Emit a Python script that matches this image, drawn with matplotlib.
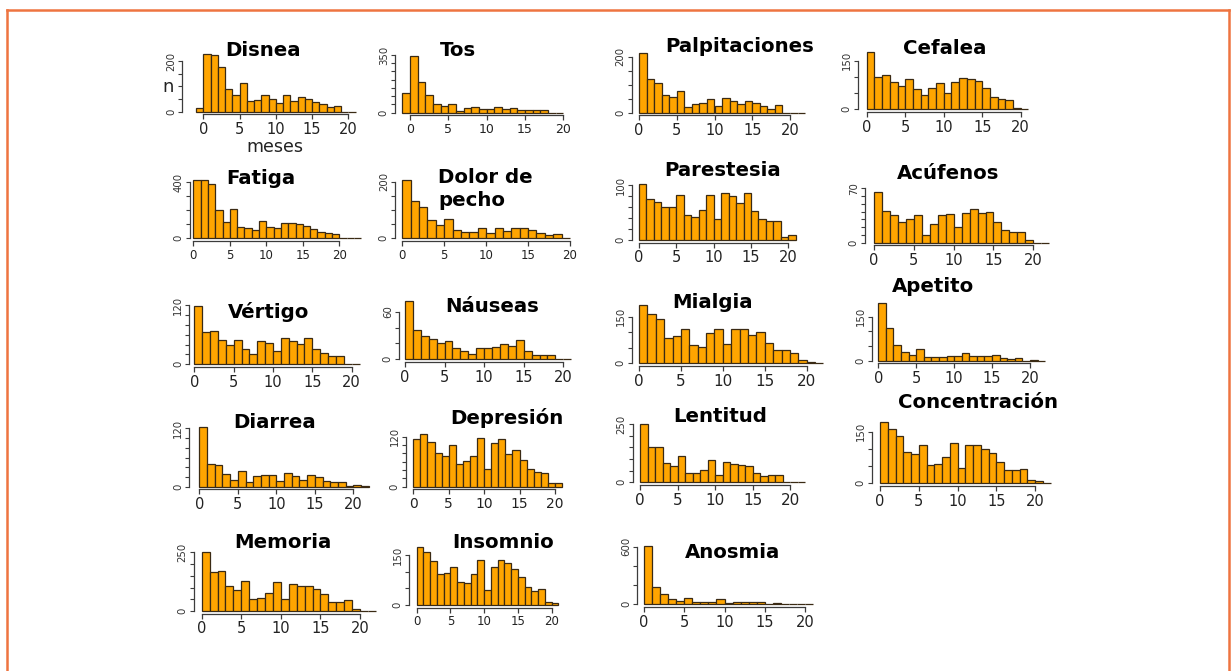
import matplotlib
matplotlib.use("Agg")
import matplotlib.pyplot as plt
from matplotlib.lines import Line2D

W, H, DPI = 1231, 671, 100

# ---------------- data ----------------
titles = ["Disnea", "Tos", "Palpitaciones", "Cefalea",
          "Fatiga", "Dolor de\npecho", "Parestesia", "Acúfenos",
          "Vértigo", "Náuseas", "Mialgia", "Apetito",
          "Diarrea", "Depresión", "Lentitud", "Concentración",
          "Memoria", "Insomnio", "Anosmia"]

disnea = [16, 229, 222, 176, 91, 65, 115, 42, 48, 64, 52, 33, 65, 42, 59, 51, 39, 29, 20, 22, 0, 0]
tos = [121, 344, 188, 107, 51, 40, 51, 12, 26, 32, 22, 24, 36, 24, 28, 18, 18, 14, 14, 0, 0]
palpitaciones = [212, 122, 107, 63, 57, 79, 21, 30, 33, 48, 24, 54, 42, 31, 42, 36, 24, 12, 26, 0, 0, 0]
cefalea = [178, 101, 106, 83, 73, 93, 62, 44, 67, 82, 49, 83, 98, 95, 88, 67, 37, 32, 29, 5, 0]
fatiga = [417, 417, 386, 202, 119, 209, 79, 71, 60, 124, 83, 76, 107, 107, 102, 88, 67, 48, 40, 29, 0, 0, 0]
dolor_pecho = [206, 132, 109, 65, 47, 67, 29, 24, 24, 35, 18, 35, 27, 35, 35, 29, 20, 12, 15, 0]
parestesia = [101, 74, 69, 60, 60, 82, 45, 42, 55, 82, 39, 85, 80, 68, 85, 52, 39, 35, 35, 5, 9]
acufenos = [65, 41, 35, 26, 31, 35, 10, 24, 35, 37, 20, 38, 43, 38, 40, 26, 16, 14, 14, 3, 0, 0]
vertigo = [118, 66, 68, 50, 39, 50, 30, 21, 48, 44, 27, 53, 47, 41, 53, 30, 22, 16, 16, 0, 1]
nauseas = [73, 37, 29, 26, 20, 23, 14, 10, 7, 14, 14, 16, 19, 17, 24, 11, 6, 5, 5, 0, 1]
mialgia = [187, 158, 144, 82, 88, 110, 59, 51, 96, 110, 62, 112, 112, 91, 100, 64, 43, 43, 32, 11, 3, 0]
apetito = [198, 110, 54, 31, 19, 39, 11, 14, 14, 17, 17, 25, 16, 17, 17, 21, 10, 6, 8, 0, 2, 0]
diarrea = [122, 47, 45, 26, 14, 32, 9, 23, 25, 25, 12, 29, 23, 14, 24, 19, 12, 9, 9, 1, 3, 1]
depresion = [114, 126, 108, 80, 74, 100, 54, 62, 74, 118, 42, 106, 114, 78, 88, 64, 42, 36, 34, 8, 8]
lentitud = [250, 150, 150, 85, 70, 115, 39, 39, 53, 96, 31, 89, 79, 75, 72, 42, 25, 31, 31, 3, 0, 0]
concentracion = [177, 157, 138, 92, 84, 111, 53, 56, 77, 116, 44, 111, 111, 99, 87, 63, 39, 39, 41, 10, 7, 0]
memoria = [250, 165, 172, 107, 89, 128, 51, 57, 75, 122, 50, 115, 107, 107, 94, 71, 37, 37, 46, 7, 0, 0]
insomnio = [175, 160, 132, 93, 97, 115, 70, 67, 92, 135, 45, 113, 135, 127, 107, 85, 53, 43, 48, 10, 7]
anosmia = [610, 184, 104, 52, 38, 70, 28, 28, 28, 52, 18, 28, 28, 21, 21, 3, 18, 7, 7, 0, 0]

series = [disnea, tos, palpitaciones, cefalea, fatiga, dolor_pecho, parestesia, acufenos,
          vertigo, nauseas, mialgia, apetito, diarrea, depresion, lentitud, concentracion,
          memoria, insomnio, anosmia]
bin_start = [-1, -1, 0, 0, 0, 0, 0, 0, 0, 0, 0, 0, 0, 0, 0, 0, 0, 0, 0]
x_ticks = [0, 5, 10, 15, 20]
y_top = [200, 350, 200, 150, 400, 200, 100, 70, 120, 60, 150, 150, 120, 120, 250, 150, 250, 150, 600]
y_step = [50, 50, 50, 50, 100, 50, 20, 10, 20, 20, 50, 50, 20, 20, 50, 50, 50, 50, 200]

# ---------------- layout (pixels) ----------------
# (x of tick 0, x of tick 20, baseline y, y of top tick, y-axis x, tick font size)
geom = [
    (203.3, 348.3, 111.7, 61.0, 182.3, 10.5),
    (410.0, 563.3, 112.7, 55.0, 395.0, 9.0),
    (639.0, 790.0, 112.7, 56.7, 631.7, 10.5),
    (866.7, 1020.7, 109.3, 60.7, 858.0, 10.5),
    (193.3, 339.3, 238.3, 182.3, 190.0, 8.5),
    (402.3, 570.0, 238.3, 181.7, 395.0, 8.5),
    (639.0, 788.3, 240.0, 185.0, 631.7, 10.5),
    (874.0, 1033.3, 242.7, 188.3, 865.0, 10.5),
    (194.3, 351.7, 364.3, 305.0, 189.3, 10.5),
    (405.0, 563.3, 359.3, 311.7, 399.0, 10.5),
    (639.0, 806.7, 363.3, 316.7, 631.7, 11.0),
    (878.3, 1030.0, 360.7, 316.7, 871.7, 10.5),
    (199.3, 353.3, 486.7, 428.3, 189.3, 10.5),
    (413.3, 555.0, 486.7, 436.7, 406.0, 10.0),
    (640.0, 790.0, 482.3, 424.3, 632.7, 11.0),
    (880.0, 1035.0, 483.3, 431.7, 871.7, 10.5),
    (201.7, 360.0, 611.0, 552.3, 194.0, 10.5),
    (416.7, 551.7, 605.0, 555.0, 409.0, 8.5),
    (644.0, 805.0, 604.3, 546.7, 637.3, 10.5),
]
title_pos = [(263, 51), (458, 51), (740, 46), (945, 49),
             (261, 178), (438, 189), (723, 171), (948, 173),
             (269, 312), (492, 306), (713, 302), (933, 287),
             (275, 423), (507, 418), (720, 417), (978, 403),
             (283, 542), (503, 543), (733, 553)]

BAR = "#FFA500"
EDGE = "#3a2a14"
AX = "#3c3c3c"

fig = plt.figure(figsize=(W / DPI, H / DPI), dpi=DPI)
fig.patch.set_facecolor("white")


def fx(x):
    return x / W


def fy(y):
    return 1 - y / H


for i, counts in enumerate(series):
    x0, x20, base, ytp, yax, tfs = geom[i]
    pxu = (x20 - x0) / 20.0
    pxc = (base - ytp) / y_top[i]
    xmin = (yax - x0) / pxu
    xmax = 23.5
    ymax = max(max(counts) * 1.03, y_top[i])
    ax = fig.add_axes([fx(yax), fy(base), (xmax - xmin) * pxu / W, ymax * pxc / H])
    ax.set_xlim(xmin, xmax)
    ax.set_ylim(0, ymax)
    ax.patch.set_visible(False)
    edges = [bin_start[i] + k for k in range(len(counts))]
    ax.bar(edges, counts, width=1.0, align="edge", color=BAR, edgecolor=EDGE,
           linewidth=0.9, clip_on=False)
    for s in ("top", "right"):
        ax.spines[s].set_visible(False)
    ax.spines["bottom"].set_position(("outward", 2))
    ax.spines["bottom"].set_bounds(0, 20)
    ax.spines["left"].set_bounds(0, y_top[i])
    for s in ("bottom", "left"):
        ax.spines[s].set_color(AX)
        ax.spines[s].set_linewidth(0.9)
    ax.set_xticks(x_ticks)
    ax.set_xticklabels([str(t) for t in x_ticks])
    yt = list(range(0, y_top[i] + 1, y_step[i]))
    ax.set_yticks(yt)
    ax.set_yticklabels([str(v) if v in (0, y_top[i]) else "" for v in yt])
    ax.tick_params(axis="x", length=3.5, width=0.9, color=AX, pad=2,
                   labelsize=tfs, labelcolor="#222222")
    ax.tick_params(axis="y", length=3.0, width=0.8, color=AX, pad=1.5,
                   labelsize=7.3, labelcolor="#333333", labelrotation=90)
    for lab in ax.get_yticklabels():
        lab.set_va("center")
        lab.set_ha("right")

    tx, ty = title_pos[i]
    if "\n" in titles[i]:
        fig.text(fx(tx), fy(ty), titles[i], ha="left", va="center",
                 fontsize=14.2, fontweight="bold", family="DejaVu Sans",
                 linespacing=1.25)
    else:
        fig.text(fx(tx), fy(ty), titles[i], ha="center", va="center",
                 fontsize=14.2, fontweight="bold", family="DejaVu Sans")

# axis labels of first panel
fig.text(fx(168), fy(87), "n", ha="center", va="center", fontsize=13, color="#222222")
fig.text(fx(275), fy(147), "meses", ha="center", va="center", fontsize=12.6, color="#222222")

# orange frame
fc = "#EE7440"
for xs, ys in [((7, 7), (10, 680)), ((7, 1229), (10, 10)), ((1229, 1229), (10, 680))]:
    fig.add_artist(Line2D([fx(x) for x in xs], [fy(y) for y in ys], color=fc,
                          linewidth=1.8, transform=fig.transFigure))

fig.savefig("out.png", dpi=DPI, facecolor="white")
